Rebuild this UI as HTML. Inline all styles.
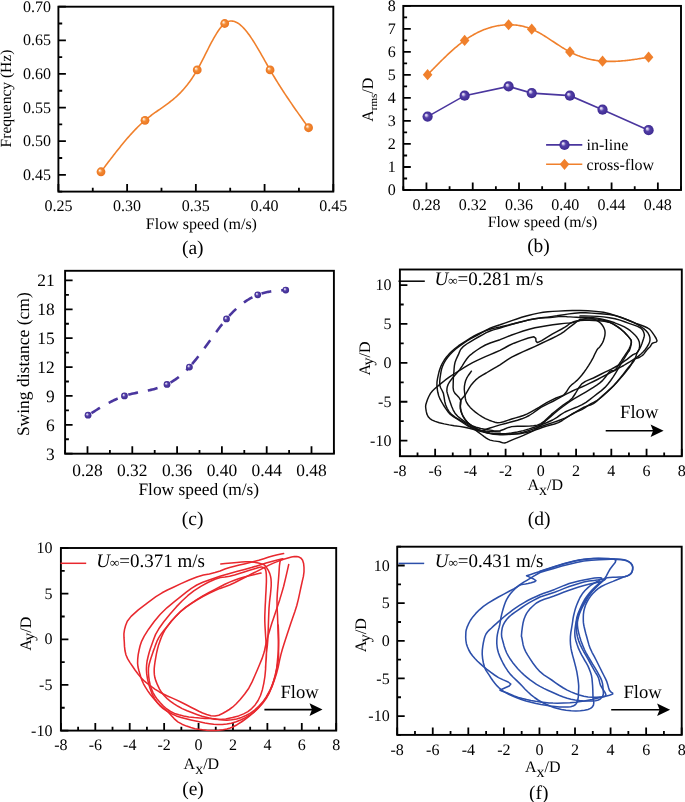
<!DOCTYPE html><html><head><meta charset="utf-8"><style>html,body{margin:0;padding:0;background:#fff;width:685px;height:802px;overflow:hidden}svg{display:block;will-change:transform}text{text-rendering:geometricPrecision}.t{font-family:"Liberation Serif", serif;fill:#000}.big{font-family:"Liberation Serif", serif;font-size:19.5px;fill:#000}</style></head><body>
<svg width="685" height="802" viewBox="0 0 685 802">
<defs>
<radialGradient id="go" cx="0.5" cy="0.5" r="0.5" fx="0.33" fy="0.33"><stop offset="0" stop-color="#ffffff"/><stop offset="0.22" stop-color="#fbc79a"/><stop offset="0.45" stop-color="#f38a33"/><stop offset="1" stop-color="#ea7420"/></radialGradient>
<radialGradient id="gp" cx="0.5" cy="0.5" r="0.5" fx="0.33" fy="0.33"><stop offset="0" stop-color="#ffffff"/><stop offset="0.22" stop-color="#b9aee0"/><stop offset="0.45" stop-color="#5440a8"/><stop offset="1" stop-color="#3c2990"/></radialGradient>
</defs>
<path d="M58.40 191.60V184.10M127.12 191.60V184.10M195.85 191.60V184.10M264.58 191.60V184.10M333.30 191.60V184.10M92.76 191.60V187.80M161.49 191.60V187.80M230.21 191.60V187.80M298.94 191.60V187.80M58.40 174.79H65.90M58.40 141.17H65.90M58.40 107.55H65.90M58.40 73.94H65.90M58.40 40.32H65.90M58.40 6.70H65.90M58.40 191.60H62.20M58.40 157.98H62.20M58.40 124.36H62.20M58.40 90.75H62.20M58.40 57.13H62.20M58.40 23.51H62.20" stroke="#000" stroke-width="1.8" fill="none"/>
<rect x="58.40" y="6.70" width="274.90" height="184.90" stroke="#000" stroke-width="1.9" fill="none"/>
<text x="58.40" y="211.20" text-anchor="middle" class="t" font-size="16">0.25</text>
<text x="127.12" y="211.20" text-anchor="middle" class="t" font-size="16">0.30</text>
<text x="195.85" y="211.20" text-anchor="middle" class="t" font-size="16">0.35</text>
<text x="264.58" y="211.20" text-anchor="middle" class="t" font-size="16">0.40</text>
<text x="333.30" y="211.20" text-anchor="middle" class="t" font-size="16">0.45</text>
<text x="50.90" y="179.89" text-anchor="end" class="t" font-size="16">0.45</text>
<text x="50.90" y="146.27" text-anchor="end" class="t" font-size="16">0.50</text>
<text x="50.90" y="112.65" text-anchor="end" class="t" font-size="16">0.55</text>
<text x="50.90" y="79.04" text-anchor="end" class="t" font-size="16">0.60</text>
<text x="50.90" y="45.42" text-anchor="end" class="t" font-size="16">0.65</text>
<text x="50.90" y="11.80" text-anchor="end" class="t" font-size="16">0.70</text>
<path d="M101.01 171.77 L102.05 170.38 L103.10 169.00 L104.14 167.61 L105.18 166.23 L106.22 164.85 L107.27 163.48 L108.31 162.10 L109.35 160.73 L110.40 159.37 L111.44 158.01 L112.48 156.65 L113.53 155.31 L114.57 153.96 L115.61 152.63 L116.65 151.30 L117.70 149.99 L118.74 148.68 L119.78 147.38 L120.83 146.09 L121.87 144.81 L122.91 143.54 L123.95 142.28 L125.00 141.04 L126.04 139.81 L127.08 138.59 L128.13 137.39 L129.17 136.20 L130.21 135.03 L131.26 133.87 L132.30 132.72 L133.34 131.60 L134.38 130.49 L135.43 129.40 L136.47 128.33 L137.51 127.28 L138.56 126.24 L139.60 125.23 L140.64 124.24 L141.69 123.26 L142.73 122.31 L143.77 121.39 L144.81 120.48 L145.86 119.60 L146.90 118.74 L147.94 117.90 L148.99 117.08 L150.03 116.28 L151.07 115.49 L152.11 114.72 L153.16 113.96 L154.20 113.21 L155.24 112.46 L156.29 111.73 L157.33 111.00 L158.37 110.27 L159.42 109.54 L160.46 108.82 L161.50 108.09 L162.54 107.36 L163.59 106.62 L164.63 105.88 L165.67 105.13 L166.72 104.37 L167.76 103.60 L168.80 102.81 L169.85 102.01 L170.89 101.20 L171.93 100.36 L172.97 99.51 L174.02 98.63 L175.06 97.73 L176.10 96.80 L177.15 95.85 L178.19 94.86 L179.23 93.85 L180.27 92.81 L181.32 91.73 L182.36 90.62 L183.40 89.47 L184.45 88.28 L185.49 87.05 L186.53 85.77 L187.58 84.46 L188.62 83.10 L189.66 81.69 L190.70 80.23 L191.75 78.72 L192.79 77.16 L193.83 75.55 L194.88 73.88 L195.92 72.15 L196.96 70.36 L198.00 68.51 L199.05 66.61 L200.09 64.66 L201.13 62.67 L202.18 60.65 L203.22 58.60 L204.26 56.53 L205.31 54.46 L206.35 52.38 L207.39 50.30 L208.43 48.24 L209.48 46.20 L210.52 44.19 L211.56 42.21 L212.61 40.28 L213.65 38.40 L214.69 36.57 L215.74 34.81 L216.78 33.13 L217.82 31.52 L218.86 30.01 L219.91 28.59 L220.95 27.27 L221.99 26.07 L223.04 24.99 L224.08 24.03 L225.12 23.20 L226.16 22.52 L227.21 21.96 L228.25 21.54 L229.29 21.24 L230.34 21.07 L231.38 21.02 L232.42 21.08 L233.47 21.25 L234.51 21.53 L235.55 21.92 L236.59 22.41 L237.64 22.99 L238.68 23.67 L239.72 24.44 L240.77 25.30 L241.81 26.24 L242.85 27.25 L243.90 28.35 L244.94 29.52 L245.98 30.75 L247.02 32.05 L248.07 33.41 L249.11 34.83 L250.15 36.30 L251.20 37.83 L252.24 39.40 L253.28 41.01 L254.32 42.66 L255.37 44.35 L256.41 46.07 L257.45 47.82 L258.50 49.59 L259.54 51.39 L260.58 53.20 L261.63 55.03 L262.67 56.87 L263.71 58.71 L264.75 60.56 L265.80 62.41 L266.84 64.25 L267.88 66.09 L268.93 67.91 L269.97 69.72 L271.01 71.52 L272.06 73.29 L273.10 75.04 L274.14 76.78 L275.18 78.50 L276.23 80.21 L277.27 81.90 L278.31 83.57 L279.36 85.23 L280.40 86.87 L281.44 88.50 L282.48 90.12 L283.53 91.73 L284.57 93.32 L285.61 94.90 L286.66 96.47 L287.70 98.03 L288.74 99.57 L289.79 101.11 L290.83 102.64 L291.87 104.16 L292.91 105.68 L293.96 107.18 L295.00 108.68 L296.04 110.17 L297.09 111.65 L298.13 113.13 L299.17 114.61 L300.22 116.08 L301.26 117.54 L302.30 119.00 L303.34 120.46 L304.39 121.92 L305.43 123.37 L306.47 124.82 L307.52 126.27 L308.56 127.73" stroke="#f0802c" stroke-width="1.6" fill="none"/>
<circle cx="101.01" cy="171.77" r="4.4" fill="url(#go)"/>
<circle cx="144.99" cy="120.33" r="4.4" fill="url(#go)"/>
<circle cx="197.22" cy="69.90" r="4.4" fill="url(#go)"/>
<circle cx="224.71" cy="23.51" r="4.4" fill="url(#go)"/>
<circle cx="270.07" cy="69.90" r="4.4" fill="url(#go)"/>
<circle cx="308.56" cy="127.73" r="4.4" fill="url(#go)"/>
<text x="201.4" y="228.5" text-anchor="middle" class="t" font-size="16">Flow speed (m/s)</text>
<text transform="translate(11.2 98.55) rotate(-90)" text-anchor="middle" class="t" font-size="15.5">Frequency (Hz)</text>
<text x="192.8" y="254" text-anchor="middle" class="big">(a)</text>
<path d="M426.44 190.00V182.50M472.73 190.00V182.50M519.01 190.00V182.50M565.29 190.00V182.50M611.58 190.00V182.50M657.86 190.00V182.50M403.30 190.00V186.20M449.58 190.00V186.20M495.87 190.00V186.20M542.15 190.00V186.20M588.43 190.00V186.20M634.72 190.00V186.20M681.00 190.00V186.20M403.30 190.00H410.80M403.30 166.99H410.80M403.30 143.97H410.80M403.30 120.96H410.80M403.30 97.95H410.80M403.30 74.94H410.80M403.30 51.93H410.80M403.30 28.91H410.80M403.30 5.90H410.80M403.30 178.49H407.10M403.30 155.48H407.10M403.30 132.47H407.10M403.30 109.46H407.10M403.30 86.44H407.10M403.30 63.43H407.10M403.30 40.42H407.10M403.30 17.41H407.10" stroke="#000" stroke-width="1.8" fill="none"/>
<rect x="403.30" y="5.90" width="277.70" height="184.10" stroke="#000" stroke-width="1.9" fill="none"/>
<text x="426.44" y="209.60" text-anchor="middle" class="t" font-size="16">0.28</text>
<text x="472.73" y="209.60" text-anchor="middle" class="t" font-size="16">0.32</text>
<text x="519.01" y="209.60" text-anchor="middle" class="t" font-size="16">0.36</text>
<text x="565.29" y="209.60" text-anchor="middle" class="t" font-size="16">0.40</text>
<text x="611.58" y="209.60" text-anchor="middle" class="t" font-size="16">0.44</text>
<text x="657.86" y="209.60" text-anchor="middle" class="t" font-size="16">0.48</text>
<text x="395.80" y="195.10" text-anchor="end" class="t" font-size="16">0</text>
<text x="395.80" y="172.09" text-anchor="end" class="t" font-size="16">1</text>
<text x="395.80" y="149.07" text-anchor="end" class="t" font-size="16">2</text>
<text x="395.80" y="126.06" text-anchor="end" class="t" font-size="16">3</text>
<text x="395.80" y="103.05" text-anchor="end" class="t" font-size="16">4</text>
<text x="395.80" y="80.04" text-anchor="end" class="t" font-size="16">5</text>
<text x="395.80" y="57.03" text-anchor="end" class="t" font-size="16">6</text>
<text x="395.80" y="34.01" text-anchor="end" class="t" font-size="16">7</text>
<text x="395.80" y="11.00" text-anchor="end" class="t" font-size="16">8</text>
<path d="M427.60 74.71 L428.71 73.56 L429.82 72.42 L430.93 71.27 L432.04 70.13 L433.15 68.99 L434.26 67.86 L435.37 66.73 L436.48 65.60 L437.59 64.47 L438.70 63.36 L439.81 62.25 L440.93 61.14 L442.04 60.05 L443.15 58.96 L444.26 57.88 L445.37 56.81 L446.48 55.75 L447.59 54.70 L448.70 53.67 L449.81 52.64 L450.92 51.63 L452.03 50.63 L453.14 49.64 L454.25 48.67 L455.36 47.72 L456.47 46.78 L457.58 45.85 L458.69 44.95 L459.81 44.06 L460.92 43.19 L462.03 42.33 L463.14 41.50 L464.25 40.69 L465.36 39.90 L466.47 39.13 L467.58 38.38 L468.69 37.65 L469.80 36.94 L470.91 36.26 L472.02 35.59 L473.13 34.95 L474.24 34.32 L475.35 33.72 L476.46 33.13 L477.57 32.57 L478.68 32.03 L479.80 31.50 L480.91 31.00 L482.02 30.52 L483.13 30.05 L484.24 29.61 L485.35 29.19 L486.46 28.78 L487.57 28.40 L488.68 28.04 L489.79 27.69 L490.90 27.37 L492.01 27.06 L493.12 26.78 L494.23 26.51 L495.34 26.26 L496.45 26.03 L497.56 25.82 L498.68 25.63 L499.79 25.46 L500.90 25.31 L502.01 25.18 L503.12 25.06 L504.23 24.97 L505.34 24.89 L506.45 24.83 L507.56 24.79 L508.67 24.77 L509.78 24.77 L510.89 24.78 L512.00 24.82 L513.11 24.87 L514.22 24.95 L515.33 25.04 L516.44 25.16 L517.55 25.30 L518.67 25.46 L519.78 25.64 L520.89 25.84 L522.00 26.07 L523.11 26.32 L524.22 26.60 L525.33 26.90 L526.44 27.23 L527.55 27.58 L528.66 27.96 L529.77 28.36 L530.88 28.79 L531.99 29.25 L533.10 29.74 L534.21 30.25 L535.32 30.78 L536.43 31.34 L537.54 31.92 L538.66 32.52 L539.77 33.14 L540.88 33.78 L541.99 34.43 L543.10 35.10 L544.21 35.78 L545.32 36.47 L546.43 37.18 L547.54 37.89 L548.65 38.61 L549.76 39.33 L550.87 40.07 L551.98 40.80 L553.09 41.53 L554.20 42.27 L555.31 43.01 L556.42 43.74 L557.54 44.47 L558.65 45.19 L559.76 45.91 L560.87 46.62 L561.98 47.32 L563.09 48.01 L564.20 48.68 L565.31 49.35 L566.42 50.00 L567.53 50.63 L568.64 51.24 L569.75 51.84 L570.86 52.41 L571.97 52.96 L573.08 53.50 L574.19 54.01 L575.30 54.50 L576.41 54.98 L577.53 55.43 L578.64 55.87 L579.75 56.28 L580.86 56.68 L581.97 57.06 L583.08 57.42 L584.19 57.76 L585.30 58.09 L586.41 58.40 L587.52 58.69 L588.63 58.97 L589.74 59.23 L590.85 59.47 L591.96 59.70 L593.07 59.91 L594.18 60.11 L595.29 60.29 L596.40 60.46 L597.52 60.61 L598.63 60.75 L599.74 60.87 L600.85 60.99 L601.96 61.08 L603.07 61.17 L604.18 61.24 L605.29 61.30 L606.40 61.35 L607.51 61.38 L608.62 61.41 L609.73 61.42 L610.84 61.42 L611.95 61.41 L613.06 61.39 L614.17 61.36 L615.28 61.33 L616.40 61.28 L617.51 61.22 L618.62 61.15 L619.73 61.08 L620.84 61.00 L621.95 60.91 L623.06 60.81 L624.17 60.71 L625.28 60.59 L626.39 60.48 L627.50 60.35 L628.61 60.22 L629.72 60.09 L630.83 59.94 L631.94 59.80 L633.05 59.65 L634.16 59.49 L635.27 59.33 L636.39 59.17 L637.50 59.00 L638.61 58.83 L639.72 58.66 L640.83 58.49 L641.94 58.31 L643.05 58.13 L644.16 57.95 L645.27 57.77 L646.38 57.58 L647.49 57.40 L648.60 57.22" stroke="#f0802c" stroke-width="1.6" fill="none"/>
<path d="M427.60 116.59 L464.63 95.65 L508.59 86.44 L531.74 93.12 L569.92 95.65 L602.55 109.69 L648.60 130.17" stroke="#4a369e" stroke-width="1.6" fill="none"/>
<path d="M427.60 69.11L432.40 74.71L427.60 80.31L422.80 74.71Z" fill="#f0802c"/>
<path d="M464.63 34.82L469.43 40.42L464.63 46.02L459.83 40.42Z" fill="#f0802c"/>
<path d="M508.59 19.17L513.39 24.77L508.59 30.37L503.79 24.77Z" fill="#f0802c"/>
<path d="M531.74 23.54L536.54 29.14L531.74 34.74L526.94 29.14Z" fill="#f0802c"/>
<path d="M569.92 46.33L574.72 51.93L569.92 57.53L565.12 51.93Z" fill="#f0802c"/>
<path d="M602.55 55.53L607.35 61.13L602.55 66.73L597.75 61.13Z" fill="#f0802c"/>
<path d="M648.60 51.62L653.40 57.22L648.60 62.82L643.80 57.22Z" fill="#f0802c"/>
<circle cx="427.60" cy="116.59" r="5.1" fill="url(#gp)"/>
<circle cx="464.63" cy="95.65" r="5.1" fill="url(#gp)"/>
<circle cx="508.59" cy="86.44" r="5.1" fill="url(#gp)"/>
<circle cx="531.74" cy="93.12" r="5.1" fill="url(#gp)"/>
<circle cx="569.92" cy="95.65" r="5.1" fill="url(#gp)"/>
<circle cx="602.55" cy="109.69" r="5.1" fill="url(#gp)"/>
<circle cx="648.60" cy="130.17" r="5.1" fill="url(#gp)"/>
<path d="M546.1 144.9H582.3" stroke="#4a369e" stroke-width="1.6"/>
<circle cx="564.50" cy="144.90" r="5.1" fill="url(#gp)"/>
<path d="M546.1 164.3H582.3" stroke="#f0802c" stroke-width="1.6"/>
<path d="M564.50 158.70L569.30 164.30L564.50 169.90L559.70 164.30Z" fill="#f0802c"/>
<text x="586.6" y="150.4" class="t" font-size="16">in-line</text>
<text x="586.6" y="169.5" class="t" font-size="16">cross-flow</text>
<text x="542.5" y="227.4" text-anchor="middle" class="t" font-size="15.8">Flow speed (m/s)</text>
<text transform="translate(373 99.8) rotate(-90)" text-anchor="middle" class="t" font-size="16">A<tspan font-size="11" dy="3.5">rms</tspan><tspan dy="-3.5">/D</tspan></text>
<text x="538.5" y="252" text-anchor="middle" class="big">(b)</text>
<path d="M87.50 453.70V446.20M132.30 453.70V446.20M177.10 453.70V446.20M221.90 453.70V446.20M266.70 453.70V446.20M311.50 453.70V446.20M65.10 453.70V449.90M109.90 453.70V449.90M154.70 453.70V449.90M199.50 453.70V449.90M244.30 453.70V449.90M289.10 453.70V449.90M333.90 453.70V449.90M65.10 453.70H72.60M65.10 424.82H72.60M65.10 395.94H72.60M65.10 367.06H72.60M65.10 338.18H72.60M65.10 309.31H72.60M65.10 280.43H72.60M65.10 439.26H68.90M65.10 410.38H68.90M65.10 381.50H68.90M65.10 352.62H68.90M65.10 323.74H68.90M65.10 294.87H68.90" stroke="#000" stroke-width="1.8" fill="none"/>
<rect x="65.10" y="270.80" width="268.80" height="182.90" stroke="#000" stroke-width="1.9" fill="none"/>
<text x="87.50" y="475.70" text-anchor="middle" class="t" font-size="17.4">0.28</text>
<text x="132.30" y="475.70" text-anchor="middle" class="t" font-size="17.4">0.32</text>
<text x="177.10" y="475.70" text-anchor="middle" class="t" font-size="17.4">0.36</text>
<text x="221.90" y="475.70" text-anchor="middle" class="t" font-size="17.4">0.40</text>
<text x="266.70" y="475.70" text-anchor="middle" class="t" font-size="17.4">0.44</text>
<text x="311.50" y="475.70" text-anchor="middle" class="t" font-size="17.4">0.48</text>
<text x="54.70" y="459.50" text-anchor="end" class="t" font-size="17.4">3</text>
<text x="54.70" y="430.62" text-anchor="end" class="t" font-size="17.4">6</text>
<text x="54.70" y="401.74" text-anchor="end" class="t" font-size="17.4">9</text>
<text x="54.70" y="372.86" text-anchor="end" class="t" font-size="17.4">12</text>
<text x="54.70" y="343.98" text-anchor="end" class="t" font-size="17.4">15</text>
<text x="54.70" y="315.11" text-anchor="end" class="t" font-size="17.4">18</text>
<text x="54.70" y="286.23" text-anchor="end" class="t" font-size="17.4">21</text>
<path d="M88.06 415.19 L89.32 414.41 L90.57 413.62 L91.83 412.84 L93.08 412.06 L94.34 411.28 L95.59 410.51 L96.85 409.74 L98.10 408.98 L99.36 408.23 L100.61 407.48 L101.87 406.74 L103.12 406.01 L104.38 405.30 L105.63 404.59 L106.89 403.89 L108.14 403.21 L109.40 402.55 L110.65 401.89 L111.91 401.26 L113.16 400.64 L114.42 400.03 L115.67 399.45 L116.93 398.88 L118.18 398.34 L119.44 397.81 L120.69 397.31 L121.95 396.83 L123.20 396.37 L124.46 395.94" stroke="#4a369e" stroke-width="2.6" fill="none" stroke-dasharray="10 10" stroke-dashoffset="-4"/>
<path d="M124.46 395.94 L125.93 395.47 L127.40 395.03 L128.86 394.61 L130.33 394.23 L131.80 393.86 L133.27 393.52 L134.73 393.19 L136.20 392.87 L137.67 392.57 L139.14 392.28 L140.60 391.99 L142.07 391.70 L143.54 391.42 L145.01 391.13 L146.47 390.83 L147.94 390.53 L149.41 390.21 L150.88 389.88 L152.34 389.53 L153.81 389.15 L155.28 388.76 L156.75 388.34 L158.21 387.89 L159.68 387.40 L161.15 386.88 L162.62 386.32 L164.08 385.72 L165.55 385.08 L167.02 384.39" stroke="#4a369e" stroke-width="2.6" fill="none" stroke-dasharray="10 10" stroke-dashoffset="-4"/>
<path d="M167.02 384.39 L167.79 384.01 L168.56 383.61 L169.34 383.20 L170.11 382.77 L170.88 382.33 L171.65 381.88 L172.43 381.41 L173.20 380.92 L173.97 380.42 L174.74 379.91 L175.52 379.38 L176.29 378.83 L177.06 378.27 L177.83 377.70 L178.61 377.10 L179.38 376.50 L180.15 375.87 L180.92 375.23 L181.70 374.57 L182.47 373.90 L183.24 373.21 L184.01 372.50 L184.79 371.78 L185.56 371.03 L186.33 370.28 L187.10 369.50 L187.88 368.70 L188.65 367.89 L189.42 367.06" stroke="#4a369e" stroke-width="2.6" fill="none" stroke-dasharray="10 10" stroke-dashoffset="-4"/>
<path d="M189.42 367.06 L190.70 365.65 L191.98 364.19 L193.26 362.69 L194.53 361.15 L195.81 359.57 L197.09 357.96 L198.37 356.32 L199.65 354.65 L200.93 352.96 L202.20 351.24 L203.48 349.51 L204.76 347.76 L206.04 346.01 L207.32 344.24 L208.60 342.47 L209.87 340.70 L211.15 338.93 L212.43 337.16 L213.71 335.40 L214.99 333.65 L216.27 331.92 L217.54 330.20 L218.82 328.51 L220.10 326.83 L221.38 325.19 L222.66 323.57 L223.94 321.99 L225.21 320.44 L226.49 318.93" stroke="#4a369e" stroke-width="2.6" fill="none" stroke-dasharray="10 10" stroke-dashoffset="-4"/>
<path d="M226.49 318.93 L227.57 317.69 L228.65 316.48 L229.72 315.31 L230.80 314.16 L231.88 313.04 L232.96 311.95 L234.03 310.89 L235.11 309.86 L236.19 308.86 L237.27 307.89 L238.34 306.95 L239.42 306.04 L240.50 305.15 L241.58 304.30 L242.65 303.47 L243.73 302.67 L244.81 301.90 L245.89 301.16 L246.96 300.45 L248.04 299.77 L249.12 299.11 L250.20 298.48 L251.27 297.88 L252.35 297.31 L253.43 296.77 L254.51 296.25 L255.58 295.76 L256.66 295.30 L257.74 294.87" stroke="#4a369e" stroke-width="2.6" fill="none" stroke-dasharray="10 10" stroke-dashoffset="-4"/>
<path d="M257.74 294.87 L258.71 294.50 L259.67 294.15 L260.64 293.83 L261.60 293.52 L262.57 293.24 L263.53 292.97 L264.50 292.72 L265.46 292.48 L266.43 292.26 L267.40 292.06 L268.36 291.87 L269.33 291.70 L270.29 291.53 L271.26 291.38 L272.22 291.24 L273.19 291.11 L274.15 290.99 L275.12 290.88 L276.08 290.78 L277.05 290.69 L278.02 290.60 L278.98 290.52 L279.95 290.44 L280.91 290.37 L281.88 290.30 L282.84 290.24 L283.81 290.17 L284.77 290.11 L285.74 290.05" stroke="#4a369e" stroke-width="2.6" fill="none" stroke-dasharray="10 10" stroke-dashoffset="-4"/>
<circle cx="88.06" cy="415.19" r="3.4" fill="url(#gp)"/>
<circle cx="124.46" cy="395.94" r="3.4" fill="url(#gp)"/>
<circle cx="167.02" cy="384.39" r="3.4" fill="url(#gp)"/>
<circle cx="189.42" cy="367.06" r="3.4" fill="url(#gp)"/>
<circle cx="226.49" cy="318.93" r="3.4" fill="url(#gp)"/>
<circle cx="257.74" cy="294.87" r="3.4" fill="url(#gp)"/>
<circle cx="285.74" cy="290.05" r="3.4" fill="url(#gp)"/>
<text x="198.8" y="494.9" text-anchor="middle" class="t" font-size="17.4">Flow speed (m/s)</text>
<text transform="translate(29.3 364.2) rotate(-90)" text-anchor="middle" class="t" font-size="17.5">Swing distance (cm)</text>
<text x="192.6" y="524.5" text-anchor="middle" class="big">(c)</text>
<path d="M399.90 456.20V448.70M435.14 456.20V448.70M470.38 456.20V448.70M505.61 456.20V448.70M540.85 456.20V448.70M576.09 456.20V448.70M611.32 456.20V448.70M646.56 456.20V448.70M681.80 456.20V448.70M417.52 456.20V452.40M452.76 456.20V452.40M487.99 456.20V452.40M523.23 456.20V452.40M558.47 456.20V452.40M593.71 456.20V452.40M628.94 456.20V452.40M664.18 456.20V452.40M399.90 440.64H407.40M399.90 401.75H407.40M399.90 362.85H407.40M399.90 323.95H407.40M399.90 285.06H407.40M399.90 421.19H403.70M399.90 382.30H403.70M399.90 343.40H403.70M399.90 304.51H403.70" stroke="#000" stroke-width="1.8" fill="none"/>
<rect x="399.90" y="269.50" width="281.90" height="186.70" stroke="#000" stroke-width="1.9" fill="none"/>
<text x="399.90" y="475.80" text-anchor="middle" class="t" font-size="16">-8</text>
<text x="435.14" y="475.80" text-anchor="middle" class="t" font-size="16">-6</text>
<text x="470.38" y="475.80" text-anchor="middle" class="t" font-size="16">-4</text>
<text x="505.61" y="475.80" text-anchor="middle" class="t" font-size="16">-2</text>
<text x="540.85" y="475.80" text-anchor="middle" class="t" font-size="16">0</text>
<text x="576.09" y="475.80" text-anchor="middle" class="t" font-size="16">2</text>
<text x="611.32" y="475.80" text-anchor="middle" class="t" font-size="16">4</text>
<text x="646.56" y="475.80" text-anchor="middle" class="t" font-size="16">6</text>
<text x="681.80" y="475.80" text-anchor="middle" class="t" font-size="16">8</text>
<text x="391.40" y="445.74" text-anchor="end" class="t" font-size="16">-10</text>
<text x="391.40" y="406.85" text-anchor="end" class="t" font-size="16">-5</text>
<text x="391.40" y="367.95" text-anchor="end" class="t" font-size="16">0</text>
<text x="391.40" y="329.05" text-anchor="end" class="t" font-size="16">5</text>
<text x="391.40" y="290.16" text-anchor="end" class="t" font-size="16">10</text>
<path d="M398.5 281.2H424.8" stroke="#000" stroke-width="1.5"/>
<text x="434.6" y="284.8" class="t" font-size="19"><tspan font-style="italic">U</tspan><tspan font-size="13" font-style="italic">∞</tspan>=0.281 m/s</text>
<path d="M605.7 430.8H653.6" stroke="#000" stroke-width="1.6"/>
<path d="M663.6 430.8L650.6 424.5L653.1 430.8L650.6 437.1Z" fill="#000"/>
<text x="620.1" y="418.2" class="t" font-size="18.6">Flow</text>
<text x="527.4" y="490.3" class="t" font-size="16">A<tspan dy="5">x</tspan><tspan dy="-5">/D</tspan></text>
<text transform="translate(369.5 358.5) rotate(-90)" text-anchor="middle" class="t" font-size="16">A<tspan dy="3.5">y</tspan><tspan dy="-3.5">/D</tspan></text>
<text x="539.1" y="524.5" text-anchor="middle" class="big">(d)</text>
<path d="M60.90 730.60V723.10M95.31 730.60V723.10M129.72 730.60V723.10M164.14 730.60V723.10M198.55 730.60V723.10M232.96 730.60V723.10M267.38 730.60V723.10M301.79 730.60V723.10M336.20 730.60V723.10M78.11 730.60V726.80M112.52 730.60V726.80M146.93 730.60V726.80M181.34 730.60V726.80M215.76 730.60V726.80M250.17 730.60V726.80M284.58 730.60V726.80M318.99 730.60V726.80M60.90 730.60H68.40M60.90 684.95H68.40M60.90 639.30H68.40M60.90 593.65H68.40M60.90 548.00H68.40M60.90 707.77H64.70M60.90 662.12H64.70M60.90 616.48H64.70M60.90 570.83H64.70" stroke="#000" stroke-width="1.8" fill="none"/>
<rect x="60.90" y="548.00" width="275.30" height="182.60" stroke="#000" stroke-width="1.9" fill="none"/>
<text x="60.90" y="750.20" text-anchor="middle" class="t" font-size="16">-8</text>
<text x="95.31" y="750.20" text-anchor="middle" class="t" font-size="16">-6</text>
<text x="129.72" y="750.20" text-anchor="middle" class="t" font-size="16">-4</text>
<text x="164.14" y="750.20" text-anchor="middle" class="t" font-size="16">-2</text>
<text x="198.55" y="750.20" text-anchor="middle" class="t" font-size="16">0</text>
<text x="232.96" y="750.20" text-anchor="middle" class="t" font-size="16">2</text>
<text x="267.38" y="750.20" text-anchor="middle" class="t" font-size="16">4</text>
<text x="301.79" y="750.20" text-anchor="middle" class="t" font-size="16">6</text>
<text x="336.20" y="750.20" text-anchor="middle" class="t" font-size="16">8</text>
<text x="52.40" y="735.70" text-anchor="end" class="t" font-size="16">-10</text>
<text x="52.40" y="690.05" text-anchor="end" class="t" font-size="16">-5</text>
<text x="52.40" y="644.40" text-anchor="end" class="t" font-size="16">0</text>
<text x="52.40" y="598.75" text-anchor="end" class="t" font-size="16">5</text>
<text x="52.40" y="553.10" text-anchor="end" class="t" font-size="16">10</text>
<path d="M60.5 563.3H86.2" stroke="#e8282e" stroke-width="1.5"/>
<text x="96.2" y="566.8" class="t" font-size="19"><tspan font-style="italic">U</tspan><tspan font-size="13" font-style="italic">∞</tspan>=0.371 m/s</text>
<path d="M264.4 709.6H312.5" stroke="#000" stroke-width="1.6"/>
<path d="M322.5 709.6L309.5 703.3000000000001L312.0 709.6L309.5 715.9Z" fill="#000"/>
<text x="280.5" y="697.5" class="t" font-size="18.6">Flow</text>
<text x="183.6" y="769.1" class="t" font-size="16">A<tspan dy="5">x</tspan><tspan dy="-5">/D</tspan></text>
<text transform="translate(30.5 633.7) rotate(-90)" text-anchor="middle" class="t" font-size="16">A<tspan dy="3.5">y</tspan><tspan dy="-3.5">/D</tspan></text>
<text x="193" y="795" text-anchor="middle" class="big">(e)</text>
<path d="M397.20 734.90V727.40M432.76 734.90V727.40M468.32 734.90V727.40M503.89 734.90V727.40M539.45 734.90V727.40M575.01 734.90V727.40M610.58 734.90V727.40M646.14 734.90V727.40M681.70 734.90V727.40M414.98 734.90V731.10M450.54 734.90V731.10M486.11 734.90V731.10M521.67 734.90V731.10M557.23 734.90V731.10M592.79 734.90V731.10M628.36 734.90V731.10M663.92 734.90V731.10M397.20 716.08H404.70M397.20 678.44H404.70M397.20 640.80H404.70M397.20 603.16H404.70M397.20 565.52H404.70M397.20 734.90H401.00M397.20 697.26H401.00M397.20 659.62H401.00M397.20 621.98H401.00M397.20 584.34H401.00M397.20 546.70H401.00" stroke="#000" stroke-width="1.8" fill="none"/>
<rect x="397.20" y="546.70" width="284.50" height="188.20" stroke="#000" stroke-width="1.9" fill="none"/>
<text x="397.20" y="754.50" text-anchor="middle" class="t" font-size="16">-8</text>
<text x="432.76" y="754.50" text-anchor="middle" class="t" font-size="16">-6</text>
<text x="468.32" y="754.50" text-anchor="middle" class="t" font-size="16">-4</text>
<text x="503.89" y="754.50" text-anchor="middle" class="t" font-size="16">-2</text>
<text x="539.45" y="754.50" text-anchor="middle" class="t" font-size="16">0</text>
<text x="575.01" y="754.50" text-anchor="middle" class="t" font-size="16">2</text>
<text x="610.58" y="754.50" text-anchor="middle" class="t" font-size="16">4</text>
<text x="646.14" y="754.50" text-anchor="middle" class="t" font-size="16">6</text>
<text x="681.70" y="754.50" text-anchor="middle" class="t" font-size="16">8</text>
<text x="389.70" y="721.18" text-anchor="end" class="t" font-size="16">-10</text>
<text x="389.70" y="683.54" text-anchor="end" class="t" font-size="16">-5</text>
<text x="389.70" y="645.90" text-anchor="end" class="t" font-size="16">0</text>
<text x="389.70" y="608.26" text-anchor="end" class="t" font-size="16">5</text>
<text x="389.70" y="570.62" text-anchor="end" class="t" font-size="16">10</text>
<path d="M398.5 563.4H424.2" stroke="#2c4faa" stroke-width="1.5"/>
<text x="434.8" y="566.7" class="t" font-size="19"><tspan font-style="italic">U</tspan><tspan font-size="13" font-style="italic">∞</tspan>=0.431 m/s</text>
<path d="M611.2 709.7H660.1" stroke="#000" stroke-width="1.6"/>
<path d="M670.1 709.7L657.1 703.4000000000001L659.6 709.7L657.1 716.0Z" fill="#000"/>
<text x="623.4" y="698" class="t" font-size="18.6">Flow</text>
<text x="525" y="771.5" class="t" font-size="16">A<tspan dy="5">x</tspan><tspan dy="-5">/D</tspan></text>
<text transform="translate(366 635.2) rotate(-90)" text-anchor="middle" class="t" font-size="16">A<tspan dy="3.5">y</tspan><tspan dy="-3.5">/D</tspan></text>
<text x="538.7" y="799" text-anchor="middle" class="big">(f)</text>
<g fill="none" stroke="#111" stroke-width="1.45" stroke-linejoin="round" stroke-linecap="round"><path d="M500.0 441.8 L497.3 441.4 L493.5 440.9 L490.1 440.1 L488.0 439.2 L486.3 438.1 L484.2 436.6 L481.4 434.5 L478.2 432.1 L474.9 429.6 L471.6 427.3 L468.1 425.0 L464.4 422.6 L460.0 420.0 L455.4 417.3 L451.5 414.4 L448.9 411.4 L447.1 408.3 L445.7 405.0 L444.7 401.2 L444.1 397.1 L443.4 393.4 L442.1 390.5 L440.7 388.0 L439.8 385.2 L439.7 381.9 L440.0 378.4 L440.5 375.0 L441.0 371.9 L441.6 369.0 L442.6 366.1 L443.9 363.2 L445.5 360.3 L447.5 357.5 L449.8 354.7 L452.5 351.9 L455.5 349.2 L459.1 346.4 L463.0 343.6 L467.0 341.0 L470.8 338.7 L474.6 336.7 L478.4 334.6 L482.3 332.4 L486.3 330.1 L490.1 328.2 L493.3 326.9 L496.2 326.0 L500.0 324.8 L505.5 322.9 L511.8 320.6 L517.5 318.7 L521.7 317.3 L525.3 316.2 L529.2 315.2 L533.7 314.1 L538.4 313.1 L543.2 312.3 L547.9 311.8 L552.8 311.4 L558.4 311.1 L565.1 310.8 L572.4 310.5 L580.0 310.5 L587.9 310.8 L596.0 311.4 L603.4 312.3 L609.8 313.8 L615.5 315.6 L620.9 317.5 L626.3 319.5 L631.4 321.5 L636.1 323.4 L640.5 325.0 L644.5 326.5 L647.7 328.0 L649.8 329.4 L651.1 330.9 L652.4 332.7 L654.3 335.4 L656.2 338.5 L657.1 340.9 L656.1 342.1 L654.1 342.6 L652.4 343.2 L651.5 344.3 L650.9 345.5 L650.1 346.7 L649.0 347.8 L647.8 348.9 L646.6 350.2 L645.5 351.7 L644.4 353.4 L643.1 354.9 L641.6 356.0 L640.0 357.0 L638.4 357.8 L636.7 358.4 L635.1 358.8 L633.7 359.6 L632.8 361.0 L632.1 362.6 L631.4 364.2 L630.8 365.3 L630.2 366.2 L629.1 367.7 L627.4 369.9 L625.1 372.7 L622.6 375.7 L619.7 379.1 L616.5 382.7 L613.2 386.2 L609.7 389.4 L606.2 392.5 L602.7 395.5 L599.5 398.5 L596.5 401.4 L593.4 403.7 L590.4 405.0 L587.5 405.9 L584.0 407.2 L579.6 409.6 L574.7 412.6 L570.0 415.4 L566.0 418.0 L562.2 420.5 L558.4 422.6 L554.5 424.0 L550.6 425.0 L546.7 426.1 L542.8 427.3 L538.9 428.7 L535.0 430.1 L531.1 431.8 L527.3 433.6 L523.4 435.4 L519.3 437.1 L515.3 438.7 L511.7 440.1 L508.9 441.4 L506.7 442.4 L504.7 443.0 L502.8 442.9 L501.1 442.3 L500.0 441.8"/><path d="M500.0 434.8 L497.5 434.6 L493.9 434.2 L490.1 433.6 L486.4 432.8 L482.5 431.8 L478.4 430.7 L473.9 429.5 L469.2 428.3 L464.4 427.2 L459.4 426.4 L454.2 425.7 L449.2 424.9 L444.2 423.9 L439.3 422.7 L435.2 421.4 L432.2 420.1 L429.9 418.6 L428.2 416.7 L426.9 414.1 L426.2 411.2 L425.8 408.5 L425.6 406.5 L425.8 404.8 L426.4 402.7 L427.4 399.8 L428.8 396.5 L430.5 393.4 L432.4 391.0 L434.7 388.8 L437.5 386.4 L441.1 383.4 L445.1 380.2 L449.2 377.2 L453.1 374.5 L457.0 372.0 L460.9 369.6 L464.8 367.2 L468.6 364.8 L472.6 362.6 L476.7 360.6 L481.0 358.7 L485.4 356.7 L490.2 354.6 L495.1 352.5 L500.0 350.3 L504.5 348.0 L508.9 345.5 L514.0 343.2 L520.8 340.6 L528.3 338.0 L533.9 336.8 L535.8 338.4 L536.0 341.3 L537.4 342.6 L541.7 340.7 L547.3 337.2 L552.6 333.9 L557.3 331.3 L561.7 329.0 L565.4 326.9 L567.7 325.3 L569.3 323.9 L571.2 322.8 L573.7 321.8 L576.6 321.0 L580.0 320.5 L584.2 320.3 L589.1 320.3 L594.0 320.5 L599.1 320.7 L604.3 321.2 L609.2 322.2 L613.5 324.1 L617.4 326.6 L620.9 329.2 L624.1 332.0 L626.9 334.9 L629.0 337.4 L630.4 339.1 L631.2 340.4 L631.4 342.0 L631.0 344.2 L630.1 346.6 L629.0 349.0 L627.6 351.4 L626.0 353.7 L624.4 356.1 L622.8 358.4 L621.3 360.8 L619.7 363.1 L618.2 365.6 L616.6 368.2 L615.0 370.1 L613.3 370.7 L611.6 370.7 L609.7 371.5 L607.6 374.0 L605.3 377.3 L602.7 380.4 L599.9 382.9 L596.8 385.1 L593.4 387.4 L589.7 389.7 L585.7 392.1 L581.7 394.4 L577.8 396.7 L573.9 398.9 L570.0 401.4 L566.1 404.1 L562.3 407.0 L558.4 410.0 L554.5 413.2 L550.6 416.6 L546.7 420.0 L542.8 423.5 L538.9 426.9 L535.0 429.6 L531.1 431.3 L527.3 432.3 L523.4 433.1 L519.5 433.7 L515.6 434.0 L511.7 434.2 L507.4 434.5 L503.0 434.7 L500.0 434.8"/><path d="M471.4 371.2 L470.1 373.0 L468.3 375.5 L466.7 378.2 L465.6 380.8 L464.9 383.5 L464.4 386.4 L464.3 389.5 L464.6 392.7 L465.0 395.7 L465.3 398.2 L465.8 400.5 L466.7 402.7 L468.2 405.0 L470.2 407.4 L472.6 409.7 L475.4 412.1 L478.6 414.5 L481.9 416.7 L485.4 418.6 L489.1 420.2 L492.4 421.4 L495.0 422.2 L497.3 422.7 L500.0 422.6 L503.6 421.8 L507.6 420.4 L511.7 419.0 L515.6 417.9 L519.5 416.8 L523.4 415.5 L527.3 413.8 L531.1 411.8 L535.0 409.7 L539.0 407.4 L543.0 404.9 L546.7 402.7 L550.1 400.9 L553.1 399.4 L556.1 398.0 L559.0 396.9 L561.7 396.0 L564.2 394.5 L566.3 392.1 L568.1 389.1 L570.0 386.4 L572.2 384.3 L574.6 382.5 L577.0 380.4 L579.3 377.9 L581.7 375.2 L584.0 372.2 L586.4 368.9 L588.7 365.4 L591.0 361.7 L593.2 357.6 L595.2 353.3 L596.9 350.0 L598.1 348.4 L599.0 347.7 L599.9 346.7 L601.1 345.0 L602.3 343.1 L603.4 340.9 L604.2 338.3 L604.9 335.3 L605.1 332.7 L604.9 330.6 L604.3 328.7 L603.4 326.9 L602.2 325.0 L600.7 323.2 L598.7 321.6 L596.1 320.2 L593.1 318.9 L590.0 318.0 L586.8 317.6 L583.4 317.6 L580.0 317.5 L576.6 317.3 L573.2 317.1 L570.0 316.9 L567.3 316.7 L564.8 316.4 L561.9 316.4 L558.4 316.6 L554.5 317.1 L550.2 317.5 L545.5 317.8 L540.4 318.1 L535.0 318.7 L529.3 319.8 L523.4 321.2 L517.5 322.8 L511.4 324.5 L505.3 326.4 L500.0 328.0 L496.2 329.1 L493.3 329.9 L490.1 331.0 L486.3 332.7 L482.4 334.8 L478.4 337.0 L474.3 339.3 L470.2 341.8 L466.7 344.0 L464.2 345.8 L462.4 347.4 L461.0 349.0 L460.0 350.7 L459.3 352.4 L458.5 354.4 L457.3 356.9 L456.0 359.7 L455.0 362.6 L454.4 365.7 L454.1 368.8 L453.9 371.9 L453.6 374.6 L453.4 377.2 L453.3 380.1 L453.2 383.7 L453.1 387.6 L453.6 391.0 L455.0 393.4 L456.9 395.2 L458.5 396.9 L459.6 398.4 L460.4 399.8 L460.9 401.5 L460.8 403.6 L460.4 406.0 L460.3 408.5 L460.9 411.2 L461.9 414.0 L463.2 416.7 L464.8 419.2 L466.7 421.5 L469.0 423.7 L471.8 425.8 L475.0 427.9 L478.4 429.6 L482.2 431.1 L486.2 432.2 L490.1 433.1 L493.3 433.5 L496.2 433.6 L500.0 433.6 L505.3 433.8 L511.4 434.0 L517.5 433.6 L523.3 432.3 L529.2 430.4 L535.0 428.4 L541.0 426.5 L547.1 424.5 L552.6 422.6 L557.4 421.0 L561.6 419.4 L565.4 417.9 L568.6 416.2 L571.4 414.5 L574.0 413.0 L576.6 411.8 L579.0 410.9 L581.7 409.6 L584.7 407.8 L587.9 405.7 L591.0 403.7 L593.7 402.3 L596.2 401.0 L599.2 399.0 L602.9 395.9 L607.0 392.2 L610.9 388.5 L614.2 385.0 L617.3 381.5 L620.2 378.0 L623.1 374.4 L625.9 370.7 L628.4 367.5 L630.6 364.9 L632.6 362.8 L634.2 360.5 L635.4 357.9 L636.3 355.1 L637.2 352.6 L638.4 350.6 L639.6 348.8 L640.7 346.7 L641.8 344.0 L642.8 341.1 L643.6 338.5 L644.1 336.7 L644.4 335.4 L644.2 333.9 L643.6 332.0 L642.6 329.9 L640.7 328.0 L637.5 326.4 L633.4 324.9 L629.0 323.4 L624.6 321.8 L620.0 320.1 L615.0 318.7 L609.4 317.7 L603.5 316.9 L597.5 316.4 L591.0 316.1 L584.5 316.0 L580.0 316.0"/><path d="M580.0 320.4 L577.7 321.1 L574.3 322.0 L571.2 322.8 L569.1 323.1 L567.2 323.1 L564.2 323.4 L559.1 324.0 L552.9 324.8 L546.7 325.7 L540.9 326.7 L535.0 327.8 L529.2 329.2 L523.2 331.0 L517.1 333.1 L511.7 335.0 L507.5 336.6 L503.9 338.1 L500.0 339.7 L495.3 341.3 L490.2 343.0 L485.4 345.0 L480.7 347.6 L476.3 350.5 L472.6 353.2 L470.2 355.1 L468.5 356.8 L466.7 359.0 L464.4 362.3 L462.1 366.1 L459.7 369.6 L457.3 372.5 L454.9 375.2 L452.7 377.7 L450.8 380.2 L449.2 382.5 L448.0 384.7 L447.3 386.7 L447.0 388.4 L446.9 390.0 L446.9 391.1 L447.0 391.9 L447.4 393.4 L448.2 396.0 L449.2 399.3 L450.4 402.7 L451.6 406.2 L453.1 409.8 L455.0 413.2 L457.7 416.2 L460.9 418.9 L464.4 421.4 L468.0 423.6 L471.9 425.6 L476.1 427.2 L480.7 428.5 L485.7 429.4 L490.1 430.1 L493.6 430.6 L496.7 430.9 L500.0 430.7 L503.6 429.5 L507.3 427.9 L511.7 426.6 L517.3 426.2 L523.6 426.3 L529.2 426.1 L533.6 425.7 L537.3 425.1 L540.9 423.7 L544.4 421.1 L547.9 417.8 L551.4 414.4 L555.3 411.2 L559.3 408.0 L563.1 405.0 L566.4 402.8 L569.4 400.8 L572.4 398.0 L575.4 393.5 L578.4 388.3 L581.7 383.9 L585.4 381.3 L589.4 379.7 L593.4 378.0 L597.4 376.0 L601.3 374.0 L605.0 372.2 L608.3 370.6 L611.4 369.1 L614.4 367.5 L617.5 365.7 L620.6 363.8 L623.7 361.7 L627.0 359.3 L630.4 356.7 L633.1 354.7 L634.9 353.8 L636.2 353.4 L637.2 352.6 L638.3 351.0 L639.1 348.9 L639.6 346.7 L639.6 344.4 L639.3 342.1 L638.4 339.7 L636.9 337.3 L634.9 334.9 L632.6 332.7 L630.3 330.7 L627.7 328.8 L624.4 326.9 L619.9 324.9 L614.7 322.8 L609.2 321.0 L603.3 319.4 L597.2 318.1 L591.7 317.5 L586.9 318.1 L582.8 319.4 L580.0 320.4"/><path d="M580.0 319.3 L577.4 321.3 L573.7 324.1 L570.0 326.9 L567.0 329.3 L564.1 331.6 L560.7 333.9 L556.5 336.2 L551.8 338.5 L546.7 340.9 L541.1 343.5 L535.2 346.3 L529.2 349.0 L523.2 351.7 L517.1 354.5 L511.7 357.2 L507.3 359.8 L503.6 362.4 L500.0 364.8 L496.6 366.9 L493.5 368.7 L490.1 370.7 L486.2 373.0 L482.0 375.3 L478.4 377.7 L475.7 379.9 L473.5 382.2 L471.4 384.7 L469.3 387.9 L467.3 391.4 L465.5 394.5 L463.7 396.7 L462.1 398.5 L460.9 400.4 L460.3 402.8 L460.2 405.3 L460.5 408.0 L461.1 411.0 L462.1 414.1 L463.5 417.0 L465.3 419.7 L467.5 422.2 L470.0 424.5 L472.7 426.6 L475.8 428.4 L479.0 430.0 L482.6 431.4 L486.3 432.5 L490.0 433.3 L493.1 433.8 L496.1 434.1 L500.0 434.0 L505.3 433.6 L511.4 433.0 L517.5 432.0 L523.3 430.6 L529.2 428.9 L535.0 427.0 L541.1 424.9 L547.1 422.5 L552.6 420.0 L557.0 417.4 L560.7 414.6 L565.0 412.0 L570.4 409.6 L576.3 407.3 L581.7 404.9 L586.0 402.3 L589.7 399.6 L593.4 396.7 L597.4 393.7 L601.4 390.6 L605.0 387.4 L608.0 384.0 L610.7 380.5 L613.2 376.9 L615.6 373.1 L617.9 369.1 L620.2 365.2 L622.7 361.0 L625.2 356.8 L627.2 353.5 L628.4 351.9 L629.0 351.2 L629.6 350.0 L630.4 347.5 L631.1 344.6 L631.4 342.0 L631.1 340.3 L630.4 339.1 L629.0 337.4 L626.9 334.9 L624.1 332.0 L620.9 329.2 L617.3 326.6 L613.3 324.2 L609.2 322.2 L605.3 320.7 L601.4 319.7 L597.0 319.0 L591.1 318.9 L584.6 319.1 L580.0 319.3"/><path d="M500.0 431.9 L495.1 431.7 L488.1 431.3 L481.9 430.7 L477.4 429.8 L473.7 428.6 L470.2 427.2 L467.0 425.5 L464.0 423.5 L460.9 421.4 L457.4 419.2 L453.7 417.0 L450.4 414.4 L447.7 411.4 L445.4 408.2 L443.4 405.0 L441.6 401.9 L440.0 398.9 L438.7 395.7 L437.8 392.3 L437.2 388.7 L436.9 385.2 L437.0 381.9 L437.5 378.6 L438.2 375.4 L438.9 372.3 L439.8 369.2 L441.0 366.1 L442.5 363.0 L444.3 360.0 L446.5 357.0 L449.0 354.1 L451.8 351.3 L455.0 348.5 L458.6 345.7 L462.6 343.0 L466.5 340.5 L470.3 338.2 L474.1 336.0 L478.0 334.0 L482.0 332.2 L486.1 330.5 L490.0 329.2 L493.2 328.3 L496.2 327.8 L500.0 327.0 L505.3 325.7 L511.4 324.3 L517.5 322.8 L523.3 321.4 L529.2 319.9 L535.0 318.7 L541.1 317.8 L547.2 317.1 L552.6 316.4 L556.8 315.8 L560.2 315.2 L564.2 314.6 L569.1 313.9 L574.5 313.2 L580.0 312.8 L585.7 312.8 L591.6 313.1 L597.5 313.5 L603.5 314.0 L609.4 314.6 L615.0 315.5 L620.0 316.9 L624.6 318.6 L629.0 320.5 L633.2 322.4 L637.2 324.4 L640.7 326.5 L643.7 328.6 L646.1 330.8 L648.0 333.0 L649.2 335.3 L649.9 337.6 L650.0 340.0 L649.5 342.3 L648.4 344.7 L647.0 347.0 L645.3 349.4 L643.3 351.7 L641.0 354.0 L638.4 356.1 L635.5 358.1 L632.6 360.0 L629.7 361.9 L626.7 363.7 L623.7 365.5 L620.6 367.2 L617.5 368.9 L614.4 370.5 L611.4 372.1 L608.3 373.8 L605.0 375.5 L601.3 377.4 L597.4 379.5 L593.4 381.5 L589.4 383.4 L585.4 385.3 L581.7 387.0 L578.4 388.4 L575.3 389.7 L572.4 391.0 L569.7 392.3 L567.1 393.6 L564.2 395.1 L560.6 397.1 L556.6 399.3 L552.6 401.5 L548.7 403.4 L544.8 405.3 L540.9 407.4 L537.0 410.1 L533.1 413.0 L529.2 415.5 L525.5 417.3 L521.8 418.8 L517.5 420.2 L511.8 421.8 L505.5 423.5 L500.0 424.9 L496.0 426.1 L492.9 427.1 L490.0 428.0 L486.9 429.0 L483.9 430.0 L481.9 430.7"/></g>
<g fill="none" stroke="#e8282e" stroke-width="1.55" stroke-linejoin="round" stroke-linecap="round"><path d="M283.6 553.6 L281.1 554.1 L277.5 554.8 L273.4 555.8 L268.9 557.1 L263.8 558.7 L258.8 560.2 L253.9 561.5 L249.1 562.7 L244.2 563.9 L239.3 565.1 L234.5 566.2 L229.6 567.5 L224.9 569.1 L220.1 570.9 L215.0 572.6 L209.4 573.9 L203.4 575.1 L196.8 577.0 L189.2 580.0 L181.0 583.6 L173.4 587.2 L167.4 590.0 L162.1 592.8 L155.9 596.7 L147.5 602.8 L138.3 609.9 L131.1 616.4 L127.3 621.3 L125.6 625.5 L124.5 629.6 L123.9 633.8 L124.0 637.9 L124.3 642.0 L124.5 646.4 L125.0 650.8 L126.0 655.0 L127.7 658.9 L130.0 662.6 L132.5 666.3 L135.2 670.3 L138.2 674.3 L141.3 678.0 L144.5 681.2 L147.9 684.0 L151.5 686.7 L155.2 689.3 L159.1 691.7 L163.2 694.0 L167.4 696.0 L171.8 697.9 L176.3 699.9 L181.2 702.3 L186.2 704.8 L190.9 707.2 L195.0 709.3 L198.8 711.3 L202.6 713.0 L206.7 714.5 L210.9 715.7 L215.0 716.0 L218.8 715.2 L222.5 713.5 L226.0 711.5 L229.3 709.5 L232.5 707.2 L236.0 704.0 L240.2 699.5 L244.7 694.0 L248.8 688.2 L252.1 681.9 L255.0 675.3 L257.6 669.2 L259.9 663.8 L261.9 658.9 L263.4 654.6 L264.4 651.3 L264.9 648.6 L265.5 646.0 L266.1 643.4 L266.7 640.9 L267.6 637.6 L268.8 633.3 L270.3 628.3 L271.9 623.0 L273.8 617.4 L275.8 611.6 L277.8 605.5 L279.8 599.4 L281.7 593.1 L283.6 586.5 L285.5 578.6 L287.4 570.4 L288.7 564.6"/><path d="M282.2 559.5 L282.5 559.2 L282.8 558.8 L281.4 559.0 L277.3 560.0 L271.7 561.5 L266.1 563.1 L261.5 564.5 L256.9 565.9 L251.5 567.5 L244.5 569.4 L236.6 571.5 L229.6 573.4 L224.3 574.9 L219.9 576.3 L215.0 578.0 L209.1 580.0 L202.8 582.2 L196.8 585.0 L191.4 588.3 L186.3 592.2 L180.7 596.7 L174.1 601.9 L166.9 607.8 L160.3 614.2 L154.2 621.5 L148.6 629.2 L144.2 636.1 L141.6 641.3 L140.1 645.7 L139.1 650.0 L138.2 654.6 L137.7 659.2 L137.6 663.4 L138.0 667.0 L138.8 670.3 L139.8 673.6 L140.8 677.0 L142.0 680.4 L143.5 683.8 L145.4 687.2 L147.6 690.6 L150.0 694.0 L152.8 697.5 L155.8 701.0 L158.8 704.2 L161.7 706.7 L164.6 709.0 L167.6 711.5 L170.8 714.9 L174.1 718.6 L177.8 721.8 L182.0 724.2 L186.5 726.1 L190.9 727.6 L194.9 728.7 L198.7 729.3 L202.6 729.8 L206.7 730.2 L210.9 730.5 L215.0 730.5 L219.1 730.3 L223.1 729.8 L226.9 729.0 L230.2 728.0 L233.3 726.8 L237.1 724.7 L242.1 721.5 L247.8 717.4 L253.2 713.0 L258.0 708.5 L262.5 703.6 L266.3 698.4 L269.3 692.8 L271.6 687.0 L273.6 680.9 L275.4 674.4 L276.9 667.8 L278.0 661.9 L278.5 658.0 L278.6 654.8 L278.5 650.0 L278.4 641.9 L278.1 632.2 L277.8 623.0 L277.5 615.3 L277.1 608.2 L277.0 601.1 L277.3 593.6 L277.9 586.2 L278.5 579.2 L279.0 572.5 L279.4 566.2 L280.0 561.7 L280.8 559.8 L281.6 559.5 L282.2 559.5"/><path d="M265.5 668.0 L265.8 663.9 L266.3 657.9 L266.5 652.0 L266.3 646.6 L266.0 641.3 L265.6 636.0 L265.3 630.9 L265.0 626.0 L264.8 621.0 L264.8 616.0 L265.0 611.0 L265.2 606.0 L265.5 600.9 L265.7 595.9 L266.0 591.0 L266.2 586.4 L266.4 581.9 L266.4 578.0 L266.3 574.6 L266.0 571.7 L265.5 569.5 L264.7 568.2 L263.6 567.6 L262.5 567.3 L261.7 567.0 L260.9 567.0 L258.8 567.5 L254.7 568.7 L249.5 570.3 L244.2 571.9 L239.3 573.4 L234.5 574.9 L229.6 576.3 L225.0 577.1 L220.4 577.6 L215.0 579.2 L208.3 582.3 L200.8 586.4 L193.8 590.9 L187.7 595.7 L182.0 601.0 L176.3 606.9 L170.1 614.0 L163.8 621.8 L158.8 628.8 L155.6 634.4 L153.7 639.3 L152.0 644.0 L150.4 648.5 L149.1 652.8 L148.0 657.0 L147.1 661.0 L146.6 665.0 L146.4 669.2 L146.7 673.9 L147.5 678.8 L148.6 683.8 L150.2 688.8 L152.1 693.9 L154.4 698.4 L157.0 702.2 L159.8 705.6 L163.2 708.6 L167.2 711.4 L171.7 713.8 L176.3 715.9 L181.1 717.5 L186.0 718.8 L190.9 720.0 L195.7 721.1 L200.4 722.1 L205.0 723.0 L209.4 723.7 L213.7 724.3 L218.0 724.6 L222.4 724.5 L226.8 724.1 L231.3 723.2 L236.2 721.7 L241.2 719.7 L245.9 717.4 L250.0 715.0 L253.8 712.2 L257.6 708.6 L261.6 703.9 L265.7 698.4 L269.2 692.6 L272.1 686.5 L274.4 680.0 L276.5 673.6 L278.2 667.1 L279.5 660.6 L280.9 654.6 L282.3 649.5 L283.7 644.9 L285.3 640.0 L287.1 634.5 L289.0 628.8 L290.9 623.0 L292.9 617.3 L294.9 611.5 L296.8 605.5 L298.4 599.1 L299.8 592.6 L301.1 586.5 L302.3 581.2 L303.4 576.4 L304.0 571.9 L304.0 567.5 L303.6 563.4 L302.6 560.2 L301.1 558.2 L299.1 557.1 L296.8 556.6 L294.3 556.6 L291.5 557.1 L288.0 558.0 L283.6 559.3 L278.5 561.1 L273.4 563.1 L268.5 565.4 L263.7 567.9 L258.8 570.4 L253.9 572.8 L249.1 575.3 L244.2 577.7 L239.3 580.2 L234.5 582.7 L229.6 585.0 L224.9 586.8 L220.1 588.4 L215.0 590.5 L209.1 593.3 L202.8 596.5 L196.8 600.0 L191.2 603.6 L185.8 607.4 L180.7 611.5 L175.9 616.2 L171.3 621.3 L167.6 626.0 L165.0 629.9 L163.1 633.4 L161.5 637.0 L160.0 640.9 L158.6 644.9 L157.5 649.0 L156.5 653.4 L155.7 657.9 L155.0 662.0 L154.5 665.6 L154.2 668.9 L154.2 672.0 L154.4 674.9 L154.9 677.8 L155.9 680.9 L157.4 684.7 L159.4 688.8 L161.7 692.6 L164.3 695.8 L167.2 698.6 L170.5 701.3 L174.1 703.9 L178.0 706.3 L182.2 708.6 L187.1 710.8 L192.3 712.8 L196.8 714.5 L199.8 715.6 L202.0 716.3 L205.0 717.0 L209.2 718.1 L214.2 719.2 L219.6 719.6 L225.8 719.0 L232.5 717.6 L238.6 715.9 L243.6 713.9 L247.9 711.6 L251.7 708.6 L255.1 704.9 L258.1 700.5 L260.5 695.5 L262.4 689.7 L263.8 683.3 L264.9 676.5 L265.6 669.1 L265.9 661.5 L266.3 654.6 L266.8 649.8 L267.3 645.9 L267.8 640.0 L268.2 630.1 L268.6 618.3 L269.0 608.4 L269.5 602.2 L270.0 597.8 L270.5 593.8 L270.9 589.6 L271.2 585.7 L271.2 582.1 L271.0 578.9 L270.5 576.1 L269.7 573.4 L268.5 570.7 L266.9 568.1 L265.4 566.1 L264.4 565.0 L263.5 564.4 L261.7 563.9 L258.4 563.1 L254.3 562.2 L250.0 561.7 L245.8 561.7 L241.5 562.0 L236.9 562.4 L231.2 562.9 L225.1 563.5 L220.8 563.9"/><path d="M261.0 573.1 L256.6 574.1 L250.3 575.5 L244.2 577.0 L239.2 578.5 L234.4 580.2 L229.6 582.1 L224.9 584.3 L220.1 586.7 L215.0 589.4 L209.1 592.5 L202.8 596.0 L196.8 599.6 L191.2 603.3 L185.8 607.1 L180.7 611.3 L176.0 616.1 L171.5 621.1 L167.6 625.9 L164.2 630.1 L161.2 633.9 L158.8 637.6 L157.0 641.2 L155.7 644.6 L154.5 648.0 L153.2 651.4 L152.1 654.7 L151.0 658.0 L150.0 661.2 L149.1 664.5 L148.5 668.0 L148.4 672.1 L148.7 676.6 L149.3 680.9 L150.2 684.9 L151.4 688.9 L153.0 692.6 L155.1 696.2 L157.5 699.6 L160.3 702.8 L163.4 706.0 L166.8 709.0 L170.5 711.5 L174.5 713.4 L178.9 714.8 L183.6 715.9 L188.8 716.9 L194.3 717.6 L199.7 718.1 L205.0 718.4 L210.2 718.6 L215.0 718.8 L219.1 719.4 L222.9 720.1 L226.9 720.3 L231.6 719.8 L236.6 718.9 L241.5 717.4 L246.0 715.5 L250.4 713.1 L254.6 710.1 L258.7 706.4 L262.7 702.1 L266.3 696.9 L269.7 690.7 L272.7 683.7 L275.1 676.5 L276.6 669.0 L277.4 661.4 L278.0 654.6 L278.4 649.2 L278.6 644.6 L278.7 640.0 L278.6 634.5 L278.4 628.9 L278.2 625.0"/></g>
<g fill="none" stroke="#2c4faa" stroke-width="1.55" stroke-linejoin="round" stroke-linecap="round"><path d="M526.6 575.8 L529.6 577.1 L533.7 579.0 L535.9 580.7 L534.5 581.8 L531.2 582.8 L528.0 583.5 L525.5 583.9 L523.1 584.2 L520.7 584.8 L518.6 585.8 L516.6 587.1 L513.7 588.9 L509.2 591.3 L503.9 594.1 L498.5 597.0 L493.3 600.0 L488.1 603.1 L483.4 606.4 L479.4 609.8 L475.8 613.4 L472.8 616.9 L470.3 620.5 L468.4 624.2 L467.0 627.4 L466.2 629.9 L465.9 631.9 L465.8 634.3 L465.7 637.3 L465.9 640.5 L466.4 643.7 L467.4 646.8 L468.8 650.0 L470.5 653.0 L472.5 655.8 L474.9 658.5 L477.5 661.2 L480.4 663.9 L483.5 666.7 L486.9 669.4 L490.6 672.2 L494.5 675.0 L498.5 677.6 L503.3 679.9 L508.2 682.0 L510.8 684.0 L509.2 686.0 L505.2 687.8 L502.0 689.2 L500.6 689.9 L500.0 690.1 L500.3 690.4 L501.6 691.0 L503.9 691.7 L506.7 692.7 L510.2 694.1 L514.2 695.9 L518.4 697.4 L522.4 698.6 L526.6 699.6 L530.9 700.5 L535.5 701.3 L540.4 702.0 L545.0 702.5 L549.0 702.9 L552.9 703.1 L557.4 703.2 L563.3 703.0 L569.9 702.7 L575.8 702.2 L580.4 701.6 L584.3 701.0 L588.1 700.2 L592.1 699.4 L596.0 698.5 L600.0 697.5 L604.7 696.4 L609.5 695.3 L612.6 694.1 L612.7 693.1 L611.1 692.1 L609.5 690.4 L608.6 687.7 L607.7 684.4 L606.6 681.1 L605.2 678.1 L603.6 675.0 L601.9 671.7 L600.1 668.0 L598.1 664.0 L596.1 660.0 L594.1 656.1 L592.0 652.3 L590.2 648.4 L588.8 644.4 L587.7 640.5 L586.7 636.7 L585.7 633.2 L584.9 630.0 L584.2 627.0 L583.7 624.6 L583.4 622.4 L583.3 620.1 L583.3 617.3 L583.4 614.3 L583.8 611.3 L584.5 608.4 L585.4 605.5 L586.7 602.6 L588.3 599.6 L590.3 596.6 L592.6 593.8 L595.2 591.2 L598.1 588.7 L601.3 586.5 L605.1 584.6 L609.2 582.9 L613.0 581.4 L616.3 580.0 L619.3 578.7 L621.8 577.7 L623.5 577.1 L624.8 576.8 L626.1 576.3 L627.9 575.6 L629.7 574.6 L631.2 573.4 L632.1 571.6 L632.6 569.5 L632.7 567.5 L632.4 565.9 L631.6 564.4 L630.5 563.1 L629.1 562.0 L627.2 561.0 L624.7 560.2 L621.3 559.7 L617.3 559.4 L613.0 559.1 L608.3 558.8 L603.4 558.6 L598.4 558.5 L593.5 558.6 L588.7 559.0 L583.8 559.5 L578.9 560.3 L574.1 561.3 L569.2 562.4 L564.3 563.7 L559.5 565.3 L554.6 566.8 L549.7 568.4 L544.8 570.0 L540.0 571.5 L534.9 573.1 L530.0 574.7 L526.6 575.8"/><path d="M540.0 572.5 L537.4 574.0 L533.7 576.2 L530.1 578.4 L526.9 580.3 L523.7 582.2 L520.7 584.2 L517.8 586.4 L515.1 588.7 L512.6 591.2 L510.4 593.8 L508.4 596.5 L506.7 599.4 L505.3 602.4 L504.2 605.6 L503.2 608.7 L502.3 611.9 L501.5 615.1 L500.9 618.0 L500.5 620.4 L500.1 622.6 L499.7 625.0 L499.0 627.9 L498.1 631.1 L497.4 634.3 L497.0 637.4 L496.8 640.6 L496.8 643.7 L497.1 646.8 L497.6 649.8 L498.5 653.0 L499.8 656.4 L501.4 659.9 L503.2 663.5 L505.3 667.1 L507.6 670.7 L510.2 674.1 L513.2 677.3 L516.5 680.4 L519.6 683.4 L522.4 686.3 L525.1 689.2 L528.0 692.0 L531.1 694.8 L534.5 697.5 L538.0 700.0 L541.9 702.2 L546.0 704.3 L550.0 706.0 L553.8 707.4 L557.5 708.6 L561.5 709.5 L566.1 710.2 L571.1 710.7 L575.8 710.9 L580.3 710.8 L584.5 710.3 L588.0 709.5 L590.6 708.4 L592.4 706.9 L593.5 705.0 L593.8 702.7 L593.4 700.0 L593.0 697.0 L592.9 693.4 L592.8 689.5 L592.6 685.7 L592.3 682.1 L592.0 678.6 L591.4 675.2 L590.4 672.0 L589.2 668.9 L587.9 665.9 L586.4 663.1 L584.8 660.5 L583.2 657.7 L581.6 654.8 L580.0 651.7 L578.5 648.4 L577.1 644.6 L575.8 640.5 L575.0 636.7 L574.8 633.3 L574.9 630.1 L575.3 627.0 L575.7 624.2 L576.4 621.5 L577.2 618.6 L578.2 615.3 L579.4 611.9 L580.9 608.4 L582.6 605.0 L584.5 601.6 L586.7 598.2 L589.4 594.7 L592.5 591.3 L595.5 588.0 L598.5 585.0 L601.5 582.2 L604.2 579.2 L606.4 575.9 L608.2 572.3 L610.1 569.0 L612.6 565.7 L615.2 562.5 L615.9 560.2 L614.1 559.3 L610.6 559.3 L605.7 559.5 L599.3 559.7 L591.5 560.2 L583.8 561.0 L576.5 562.4 L569.2 564.2 L561.9 566.1 L553.8 568.4 L545.7 570.8 L540.0 572.5"/><path d="M540.0 594.7 L536.8 596.2 L532.2 598.3 L527.7 600.5 L523.7 602.8 L519.8 605.2 L516.1 607.6 L512.8 609.9 L509.7 612.3 L506.7 614.6 L503.8 617.0 L501.1 619.3 L498.5 621.6 L496.0 623.8 L493.7 625.9 L491.5 628.0 L489.4 629.9 L487.6 631.8 L486.0 634.0 L484.9 636.5 L484.1 639.3 L483.4 642.5 L482.8 646.1 L482.3 650.1 L482.2 654.2 L482.6 658.6 L483.4 663.0 L484.5 667.0 L485.8 670.1 L487.5 672.6 L489.2 675.2 L491.0 678.0 L492.9 680.8 L495.0 683.4 L497.1 685.9 L499.4 688.2 L502.0 690.4 L505.2 692.4 L508.7 694.2 L512.6 696.0 L516.8 697.8 L521.3 699.5 L526.0 701.0 L531.0 702.3 L536.1 703.5 L541.1 704.5 L545.9 705.3 L550.5 706.0 L555.0 706.5 L559.5 706.9 L563.9 707.1 L567.7 707.0 L570.7 706.7 L573.1 706.1 L575.0 705.0 L576.4 703.4 L577.3 701.4 L578.0 699.0 L578.4 696.1 L578.5 692.9 L578.6 690.0 L578.7 687.8 L578.7 685.9 L578.5 683.4 L578.1 679.9 L577.5 675.8 L576.8 671.7 L575.9 667.8 L574.9 663.9 L573.9 660.0 L572.8 656.1 L571.8 652.3 L571.0 648.4 L570.5 644.5 L570.3 640.6 L570.4 636.7 L570.8 632.7 L571.5 628.7 L572.1 625.0 L572.6 621.8 L573.0 618.8 L573.6 615.7 L574.4 612.4 L575.3 609.0 L576.5 605.5 L578.1 601.6 L580.0 597.5 L582.3 593.8 L585.0 590.5 L588.0 587.6 L591.1 585.0 L594.9 582.7 L598.8 580.7 L601.3 579.2 L601.7 578.2 L600.7 577.8 L598.4 577.7 L594.4 578.1 L589.1 578.9 L583.8 579.9 L578.9 580.9 L574.1 582.2 L569.2 583.6 L564.3 585.4 L559.5 587.4 L554.6 589.4 L549.2 591.4 L543.8 593.3 L540.0 594.7"/><path d="M540.0 597.0 L537.1 598.5 L533.0 600.6 L528.9 602.9 L525.3 605.2 L521.8 607.5 L518.4 609.9 L515.1 612.2 L511.8 614.5 L509.0 616.9 L506.6 619.5 L504.7 622.2 L503.2 625.1 L502.2 628.1 L501.7 631.3 L501.5 634.3 L501.7 637.0 L502.4 639.6 L503.2 642.5 L504.1 645.9 L505.3 649.5 L506.7 653.0 L508.4 656.2 L510.4 659.3 L512.6 662.4 L515.1 665.5 L517.8 668.7 L520.7 671.7 L523.7 674.6 L526.9 677.3 L530.1 679.9 L533.3 682.2 L536.5 684.4 L540.0 686.4 L543.8 688.4 L547.7 690.2 L551.7 692.0 L555.6 693.8 L559.5 695.5 L563.4 697.0 L567.2 698.2 L571.0 699.2 L575.0 700.0 L579.4 700.6 L583.9 700.9 L588.1 701.0 L592.0 700.9 L595.5 700.7 L598.4 700.0 L600.5 698.8 L602.0 697.3 L603.0 695.5 L603.4 693.6 L603.3 691.5 L603.1 689.2 L602.9 686.7 L602.6 684.0 L601.9 681.1 L600.7 678.1 L599.1 675.1 L597.2 671.7 L595.0 667.9 L592.5 663.9 L590.2 660.0 L588.1 656.5 L586.2 653.1 L584.4 649.5 L582.7 645.4 L581.0 641.0 L579.7 636.7 L578.6 632.6 L577.8 628.6 L577.4 625.0 L577.4 622.1 L577.9 619.5 L578.5 617.0 L579.3 614.3 L580.3 611.7 L581.5 609.0 L582.8 606.4 L584.3 603.8 L586.0 601.0 L587.8 597.7 L589.8 594.3 L592.0 591.0 L594.6 588.0 L597.4 585.3 L600.0 583.0 L602.5 581.2 L604.7 579.8 L605.5 579.0 L604.3 578.9 L601.8 579.2 L598.4 579.8 L594.1 580.4 L588.9 581.1 L583.8 582.1 L578.9 583.4 L574.1 584.9 L569.2 586.5 L564.3 588.4 L559.5 590.4 L554.6 592.3 L549.2 594.1 L543.8 595.8 L540.0 597.0"/><path d="M600.0 581.8 L595.8 582.7 L589.9 584.0 L584.0 585.5 L578.7 587.1 L573.5 588.7 L568.4 590.5 L563.5 592.3 L558.7 594.2 L554.0 596.0 L549.1 597.7 L544.2 599.3 L540.0 601.0 L536.9 602.7 L534.6 604.5 L532.4 606.5 L530.2 608.6 L528.3 610.9 L526.6 613.4 L525.2 616.2 L524.0 619.3 L523.1 622.7 L522.4 626.9 L521.8 631.5 L521.5 635.0 L521.4 636.4 L521.6 636.8 L521.9 638.0 L522.4 640.9 L523.1 644.7 L524.2 648.4 L525.8 651.8 L527.7 655.2 L530.1 658.9 L533.0 663.2 L536.4 667.7 L540.0 671.7 L543.8 674.8 L547.7 677.4 L551.7 680.0 L555.6 682.8 L559.5 685.5 L563.4 688.0 L567.2 690.1 L571.0 691.9 L575.0 693.5 L579.3 694.9 L583.8 696.2 L588.1 697.0 L592.4 697.3 L596.5 697.3 L600.0 697.0 L602.9 696.8 L605.1 696.3 L606.0 695.0 L605.0 692.4 L602.7 689.0 L600.7 685.7 L599.8 682.9 L599.2 680.3 L598.4 677.6 L597.1 675.0 L595.4 672.3 L593.7 669.4 L591.9 666.1 L589.9 662.5 L587.9 658.9 L585.9 655.4 L583.9 652.0 L582.0 648.4 L580.2 644.6 L578.6 640.6 L577.4 636.7 L576.7 632.7 L576.3 628.6 L576.2 625.0 L576.2 622.1 L576.5 619.5 L577.0 617.0 L577.8 614.4 L578.8 611.8 L580.0 609.0 L581.4 605.8 L583.1 602.3 L585.0 599.0 L587.1 595.9 L589.4 593.0 L592.0 590.0 L595.3 586.8 L598.9 583.6 L602.0 581.0 L603.9 579.4 L605.2 578.5 L607.0 577.8 L609.7 577.4 L612.9 577.3 L616.0 577.2 L619.1 577.1 L622.2 577.0 L625.0 576.6 L627.4 575.9 L629.4 574.8 L631.0 573.5 L632.1 571.7 L632.7 569.5 L632.8 567.5 L632.5 565.8 L631.7 564.2 L630.5 562.8 L628.8 561.6 L626.7 560.6 L624.0 559.8 L620.8 559.3 L617.1 559.1 L613.0 558.9 L608.4 558.6 L603.4 558.4 L598.4 558.3 L593.5 558.4 L588.7 558.8 L583.8 559.3 L578.9 560.1 L574.1 561.1 L569.2 562.2 L564.3 563.5 L559.5 565.0 L554.6 566.5 L549.2 568.2 L543.8 570.0 L540.0 571.2"/></g>
</svg></body></html>
